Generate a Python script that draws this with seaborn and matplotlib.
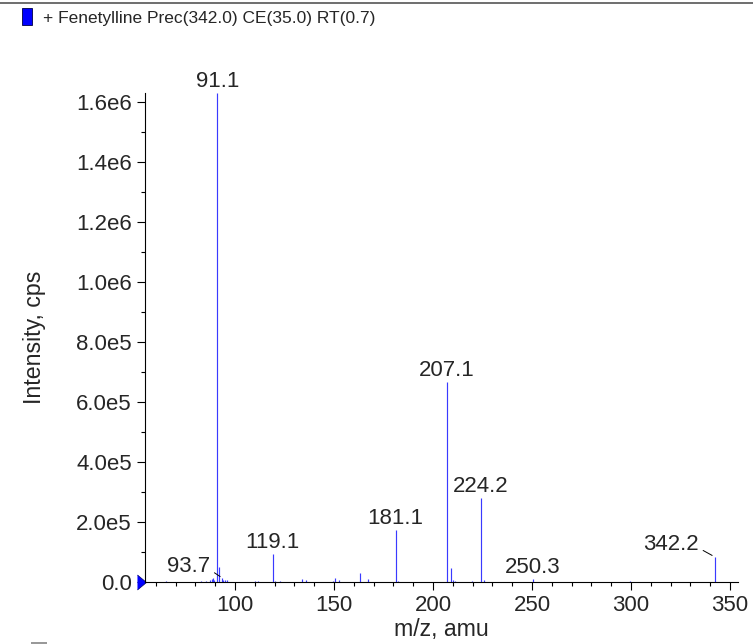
import numpy as np
import pandas as pd
import seaborn as sns
import matplotlib.pyplot as plt
from matplotlib.patches import Rectangle
from matplotlib.lines import Line2D
from matplotlib.ticker import MultipleLocator, FixedLocator, FuncFormatter
import matplotlib.transforms as mtransforms

# spectrum sticks (m/z, intensity in cps)
mz = [65.0, 83.0, 85.6, 87.6, 88.3, 88.9, 89.4, 91.1, 92.0, 93.7, 94.2, 95.1, 96.0,
      110.0, 111.8, 119.1, 120.2, 122.7, 134.0, 136.0, 149.5, 150.3, 152.4, 163.3,
      167.3, 181.1, 182.5, 186.0, 190.0, 207.1, 209.2, 210.1, 211.0, 219.5,
      224.2, 225.9, 250.3, 299.5, 342.2]
intensity = [2.0e3, 2.0e3, 3.0e3, 6.0e3, 1.1e4, 1.3e4, 8.0e3, 1.63e6, 4.9e4, 1.3e4, 7.0e3, 6.0e3, 5.0e3,
             2.0e3, 3.0e3, 9.2e4, 4.0e3, 3.0e3, 1.0e4, 5.0e3, 2.0e3, 1.3e4, 5.0e3, 3.0e4,
             1.1e4, 1.73e5, 4.0e3, 1.5e3, 1.5e3, 6.67e5, 4.7e4, 6.0e3, 4.0e3, 2.0e3,
             2.8e5, 5.0e3, 1.0e4, 2.0e3, 8.4e4]

# labelled peaks and where their labels sit (offset in points from the peak top)
label_mz = [91.1, 119.1, 181.1, 207.1, 224.2, 250.3, 93.7, 342.2]
label_dx = [0, 0, 0, 0, 0, 0, -24.5, -31.5]
label_dy = [8.5, 8.5, 8.5, 8.5, 8.5, 8.5, 8.5, 8.9]
leader = [False, False, False, False, False, False, True, True]

title = "+ Fenetylline Prec(342.0) CE(35.0) RT(0.7)"

df = pd.DataFrame({"mz": mz, "intensity": intensity})

sns.set_style("ticks")
plt.rcParams['font.family'] = ['Liberation Sans', 'DejaVu Sans']

fig = plt.figure(figsize=(7.53, 6.44), dpi=100)
ax = fig.add_axes([0.1926, 0.0963, 0.7874, 0.7593])

ax.vlines(df["mz"], 0, df["intensity"], color="#3a3aff", linewidth=0.85)

ax.set_xlim(54.6, 354.0)
ax.set_ylim(0, 1.63e6)

ax.xaxis.set_major_locator(FixedLocator([100, 150, 200, 250, 300, 350]))
ax.xaxis.set_minor_locator(MultipleLocator(10))
ax.yaxis.set_major_locator(MultipleLocator(2e5))
ax.yaxis.set_minor_locator(MultipleLocator(1e5))


def fmt_y(v, pos):
    if v <= 0:
        return "0.0"
    e = int(np.floor(np.log10(v)))
    return f"{v / 10**e:.1f}e{e}"


ax.yaxis.set_major_formatter(FuncFormatter(fmt_y))
ax.tick_params(which="major", length=6, width=0.8, labelsize=16, color="black", pad=3.5)
ax.tick_params(which="minor", length=3, width=0.8, color="black")
for s in ["left", "bottom"]:
    ax.spines[s].set_linewidth(0.8)
    ax.spines[s].set_color("black")
sns.despine(ax=ax)

ax.set_xlabel("m/z, amu", fontsize=16.7, labelpad=1)
ax.set_ylabel("Intensity, cps", fontsize=16.7, labelpad=22)

# peak labels
for m, dx, dy, ld in zip(label_mz, label_dx, label_dy, leader):
    y = df.loc[(df["mz"] - m).abs().idxmin(), "intensity"]
    if ld:
        ax.annotate(f"{m:.1f}", xy=(m, y), xytext=(dx, dy), textcoords="offset points",
                    ha="center", va="center", fontsize=16, annotation_clip=False,
                    arrowprops=dict(arrowstyle="-", color="black", lw=0.7,
                                    relpos=(1.0, 0.33), shrinkA=1, shrinkB=2))
    else:
        ax.annotate(f"{m:.1f}", xy=(m, y), xytext=(dx, dy), textcoords="offset points",
                    ha="center", va="center", fontsize=16, annotation_clip=False)

# blue marker at zero on the intensity axis
tr = mtransforms.offset_copy(ax.get_yaxis_transform(), fig=fig, x=1, y=0, units="dots")
ax.plot([0], [0], marker=[(-1.2, -1), (0, 0), (-1.2, 1)], markersize=13, color="#0000ff",
        markeredgecolor="#000066", markeredgewidth=0.5, transform=tr, clip_on=False)

# header: rule line, colour key and title
fig.add_artist(Line2D([0, 1], [1 - 3 / 644, 1 - 3 / 644], color="#555555", linewidth=1.2))
fig.add_artist(Rectangle((22 / 753, 1 - 25 / 644), 10 / 753, 17 / 644, facecolor="#0000ff",
                         edgecolor="#000044", linewidth=0.6))
fig.text(43 / 753, 1 - 18 / 644, title, fontsize=12.5, ha="left", va="center")
fig.add_artist(Rectangle((31 / 753, 0), 16 / 753, 2 / 644, facecolor="#999999", edgecolor="none"))

fig.savefig("out.png", dpi=100)
